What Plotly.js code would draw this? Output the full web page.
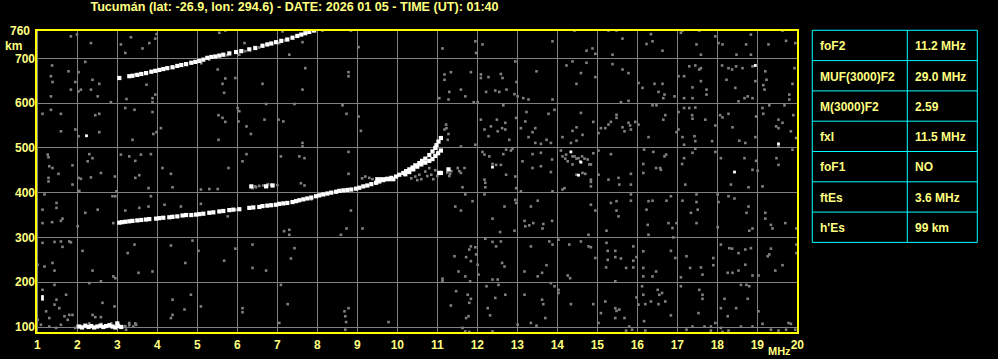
<!DOCTYPE html>
<html>
<head>
<meta charset="utf-8">
<script src="https://cdn.plot.ly/plotly-3.0.1.min.js"></script>
<style>html,body{margin:0;padding:0;background:#000;}#chart{width:998px;height:359px;}</style>
</head>
<body>
<div id="chart"></div>
<script>
// ---- Data (frequency in MHz, virtual height in km) ----
var titleText = "Tucumán (lat: -26.9, lon: 294.6) - DATE: 2026 01 05 - TIME (UT): 01:40";
var freqTicks = [1,2,3,4,5,6,7,8,9,10,11,12,13,14,15,16,17,18,19,20];
var heightTicks = [100,200,300,400,500,600,700];
var tableLabels = ["foF2","MUF(3000)F2","M(3000)F2","fxI","foF1","ftEs","h'Es"];
var tableValues = ["11.2 MHz","29.0 MHz","2.59","11.5 MHz","NO","3.6 MHz","99 km"];

// strong echoes: F2 O-trace
var f2Freq = [3.05,3.12,3.2,3.3,3.38,3.5,3.6,3.72,3.8,3.97,4.05,4.15,4.3,4.38,4.5,4.63,4.72,4.85,4.97,5.05,5.15,5.3,5.4,5.55,5.65,5.8,5.9,6.05,6.3,6.4,6.55,6.63,6.75,6.85,6.97,7.05,7.15,7.25,7.38,7.47,7.55,7.65,7.75,7.85,7.97,8.05,8.15,8.25,8.35,8.47,8.55,8.65,8.75,8.85,8.97,9.05,9.15,9.25,9.35,9.47,9.55,9.65,9.75,9.85,9.97,10.05,10.15,10.22,10.3,10.38,10.45,10.55,10.62,10.7,10.8,10.88,10.95,10.98,11.03,11.09];
var f2Height = [333,334,335,336,337,338,339,340,341,342,343,344,345,346,347,349,350,350,351,352,353,355,356,358,359,361,362,363,366,367,368,370,371,372,373,375,376,377,379,381,383,385,387,389,392,394,396,398,400,402,404,405,406,407,409,411,414,416,419,422,425,428,431,433,436,440,444,448,452,456,461,466,471,476,484,492,500,506,514,522];
// strong echoes: X branch and other F-region echoes
var xFreq = [10.2,10.3,10.4,10.5,10.6,10.7,10.8,10.88,10.95,11.02,11.09,11.05,11.09,11.28,9.5,9.6,9.7,9.8,9.9,6.35,6.72,6.88];
var xHeight = [441,446,452,458,463,467,471,475,482,488,494,444,444,452,430,430,430,430,430,414,414,416];
// strong echoes: multi-hop trace
var hopFreq = [3.05,3.3,3.38,3.5,3.6,3.72,3.85,3.95,4.05,4.15,4.25,4.38,4.5,4.6,4.72,4.85,4.95,5.05,5.15,5.25,5.35,5.45,5.55,5.65,5.8,5.97,6.1,6.3,6.45,6.63,6.75,6.85,6.97,7.1,7.25,7.38,7.5,7.6,7.7,7.8,7.92];
var hopHeight = [656,660,661,663,665,667,670,672,674,676,678,680,683,685,687,690,692,694,697,701,703,704,706,708,711,714,716,720,723,728,731,733,736,739,742,746,750,753,756,759,762];
// strong echoes: sporadic E
var esFreq = [2.05,2.12,2.2,2.28,2.35,2.42,2.5,2.58,2.65,2.72,2.8,2.88,2.95,3.02,3.1,3.0];
var esHeight = [101,99,103,100,102,99,101,103,100,102,104,101,99,102,100,108];
// isolated strong dots
var dotFreq = [1.13,1.13,2.23,12.38,14.34,14.59,14.53,18.95,18.43,19.53];
var dotHeight = [162,168,527,457,491,468,439,684,446,509];

// weak echoes near traces [MHz, km]
var weakTrace = [[9.12,432],[9.2,436],[9.3,433],[9.38,430],[10.35,432],[10.45,436],[10.55,440],[10.6,430],[10.7,447],[10.75,437],[10.85,440],[10.9,430],[10.95,450],[11.0,437],[10.5,428],[10.8,455],[11.25,445],[11.32,442],[11.35,448],[11.3,437],[7.85,385],[8.1,398],[6.45,414],[6.55,415],[6.65,416],[6.75,416],[6.9,417],[7.0,417],[3.45,664],[4.0,671],[4.4,679],[5.1,689],[5.3,697],[5.75,707],[6.2,716],[6.55,724],[7.05,734],[7.5,748],[7.2,740],[2.0,103],[2.3,108],[2.6,107],[2.85,108],[3.2,102],[3.3,104],[3.4,101],[3.45,108],[1.95,98]];
// weak scattered echoes, 1-7.5 MHz
var weakLow = [[1.84,749],[1.99,753],[2.34,734],[3.09,731],[3.2,712],[3.34,747],[3.63,722],[3.8,734],[3.95,744],[3.98,754],[5.55,757],[5.7,762],[6.18,734],[7.3,708],[7.13,760],[1.37,684],[1.34,660],[1.38,647],[1.34,615],[1.78,671],[1.95,647],[1.84,630],[2.03,669],[2.03,626],[2.09,630],[2.2,692],[2.34,630],[2.38,652],[2.51,615],[2.55,643],[2.84,602],[3.23,609],[3.73,641],[3.88,611],[3.95,619],[3.88,602],[5.51,675],[5.63,643],[5.67,623],[5.7,655],[5.95,656],[6.63,643],[6.05,708],[1.13,576],[1.34,585],[1.59,576],[1.59,537],[1.95,541],[2.03,526],[2.45,573],[2.55,576],[2.55,535],[3.2,589],[3.43,585],[3.88,580],[4.09,544],[3.38,518],[3.98,535],[3.9,531],[5.53,573],[5.63,567],[5.7,558],[5.53,518],[6.01,589],[6.05,582],[6.03,559],[6.23,548],[6.34,531],[6.72,598],[6.68,563],[7.03,563],[7.15,559],[7.43,598],[1.26,485],[1.28,479],[1.3,459],[1.38,455],[1.28,433],[1.28,425],[1.53,442],[1.88,461],[1.88,418],[2.03,433],[2.05,404],[2.09,431],[2.3,486],[2.38,477],[2.26,470],[2.34,434],[2.59,444],[2.94,436],[2.98,403],[3.09,485],[3.3,481],[3.45,471],[3.59,485],[3.84,486],[3.45,433],[3.55,439],[4.13,455],[4.34,442],[4.38,412],[3.78,410],[5.09,407],[5.3,408],[5.51,408],[5.78,455],[6.13,470],[6.23,486],[7.09,481],[1.18,396],[1.48,377],[1.48,366],[1.59,337],[1.63,342],[1.13,362],[1.13,332],[1.37,334],[2.01,325],[2.2,355],[2.51,362],[2.88,392],[2.95,392],[2.9,332],[3.2,360],[3.55,366],[3.84,392],[3.78,369],[4.18,373],[4.59,369],[5.09,375],[5.76,347],[5.97,362],[6.38,410],[6.47,412],[6.76,419],[6.84,418],[7.17,314],[7.3,317],[7.3,306],[1.13,288],[1.43,290],[1.59,291],[1.63,279],[1.8,291],[1.84,289],[2.13,270],[2.38,226],[2.59,202],[2.9,213],[2.95,209],[3.26,265],[3.43,284],[3.53,221],[3.88,224],[4.34,282],[4.7,243],[4.88,293],[5.03,270],[5.67,248],[5.95,275],[6.38,284],[6.38,232],[6.72,226],[7.43,276],[7.34,253],[1.01,239],[1.18,235],[1.38,243],[1.43,226],[1.13,183],[1.22,135],[1.3,120],[1.43,194],[1.43,150],[1.48,161],[1.55,142],[1.68,124],[1.72,172],[1.8,127],[1.76,116],[1.88,127],[1.59,105],[1.3,101],[1.47,98],[2.38,127],[2.45,122],[2.59,122],[2.63,154],[2.93,146],[2.3,198],[3.22,94],[3.3,109],[3.47,105],[4.34,120],[4.38,127],[4.38,161],[4.68,139],[4.84,172],[5.09,146],[6.13,142],[6.13,133],[7.05,109],[7.09,194],[7.26,151],[1.01,116],[1.09,105]];
// weak scattered echoes, 7.5-14 MHz
var weakMid = [[8.84,762],[8.13,762],[9.03,725],[7.63,736],[11.13,722],[11.95,738],[12.13,731],[11.97,712],[13.88,738],[7.7,678],[8.78,669],[8.78,660],[7.63,630],[11.18,664],[11.18,652],[11.34,669],[11.84,669],[12.09,664],[12.09,656],[12.28,658],[12.59,665],[12.63,656],[12.95,693],[13.48,671],[12.98,647],[11.59,630],[11.3,625],[11.7,615],[11.05,611],[11.28,608],[11.91,602],[12.01,602],[12.22,625],[12.45,628],[12.55,625],[12.73,630],[12.93,620],[13.01,615],[13.15,611],[13.28,608],[13.88,608],[8.63,595],[8.73,576],[9.03,570],[9.09,538],[7.63,511],[7.63,503],[11.22,552],[11.23,544],[11.18,541],[11.28,531],[11.26,518],[11.59,503],[11.95,507],[12.09,563],[12.18,541],[12.28,526],[12.34,548],[12.49,563],[12.51,537],[12.62,544],[12.7,556],[12.7,541],[12.65,595],[12.97,567],[13.09,544],[13.2,559],[13.23,580],[13.28,524],[13.38,535],[13.45,544],[13.45,511],[13.59,509],[13.78,576],[13.73,518],[13.84,511],[13.93,585],[12.8,518],[7.55,481],[7.68,477],[8.78,491],[8.78,442],[7.59,421],[7.68,416],[12.13,491],[12.18,485],[12.3,481],[12.38,464],[12.47,462],[12.59,462],[12.65,486],[12.72,496],[12.84,494],[12.88,498],[12.72,440],[12.95,436],[12.97,410],[13.13,470],[13.38,486],[13.38,455],[13.59,489],[13.59,459],[13.87,474],[13.84,446],[12.18,429],[12.2,422],[12.2,412],[11.63,412],[11.51,455],[11.55,448],[11.68,455],[11.59,444],[13.09,403],[13.88,403],[8.84,360],[8.59,306],[8.73,320],[9.13,320],[11.45,369],[11.59,360],[11.7,396],[11.88,381],[12.18,396],[12.38,342],[12.68,369],[12.95,384],[12.97,377],[12.57,312],[12.93,315],[13.18,337],[13.2,325],[13.3,327],[13.34,369],[13.4,332],[13.51,382],[13.65,330],[13.63,320],[13.87,337],[11.13,208],[11.13,202],[11.43,258],[11.53,224],[11.72,256],[11.8,273],[11.84,280],[11.95,278],[11.97,262],[11.84,247],[12.01,239],[12.03,217],[11.7,213],[11.82,202],[12.2,297],[12.38,290],[12.47,280],[12.59,291],[12.62,243],[12.68,235],[13.34,280],[13.18,224],[13.51,213],[13.62,221],[13.73,238],[13.8,291],[13.88,284],[12.38,206],[12.51,206],[8.68,135],[8.7,124],[8.72,111],[8.78,142],[9.78,111],[8.7,94],[11.34,148],[11.47,180],[11.76,172],[11.84,163],[11.8,154],[11.72,120],[11.78,124],[11.63,98],[11.7,90],[12.26,142],[12.23,191],[12.32,126],[12.45,165],[12.7,172],[12.53,194],[13.01,105],[13.18,172],[13.34,109],[13.48,103],[13.62,161],[13.65,151],[13.7,120],[13.84,198],[13.93,191],[12.38,90],[11.8,89]];
// weak scattered echoes, 14-20 MHz
var weakHigh = [[14.43,762],[15.28,762],[15.48,762],[15.63,744],[14.73,717],[14.88,722],[14.95,710],[15.38,708],[16.34,754],[16.23,732],[16.38,738],[16.63,717],[17.09,757],[17.13,762],[17.55,762],[17.48,731],[17.59,708],[17.95,749],[18.03,734],[18.13,731],[18.48,708],[18.72,731],[18.84,753],[18.84,708],[19.28,731],[19.63,762],[19.72,739],[19.95,734],[14.23,684],[14.38,693],[14.59,667],[14.73,690],[14.95,658],[14.48,643],[15.38,687],[15.63,675],[15.78,667],[16.03,645],[16.13,634],[16.43,643],[16.53,625],[16.63,643],[16.68,619],[16.65,611],[16.93,615],[17.03,660],[17.17,660],[17.3,682],[17.38,635],[17.45,684],[17.55,675],[17.59,678],[17.59,649],[17.73,630],[17.73,619],[17.17,611],[17.38,611],[18.12,684],[18.23,652],[18.28,678],[18.37,675],[18.47,682],[18.63,678],[18.68,611],[18.88,682],[18.95,649],[18.88,611],[18.45,634],[18.53,604],[19.2,671],[19.23,652],[19.15,640],[19.18,630],[19.8,619],[19.8,608],[19.88,643],[19.93,678],[15.59,602],[15.78,605],[18.76,615],[14.59,578],[14.13,524],[14.34,511],[14.38,538],[14.48,516],[14.63,529],[14.48,546],[14.9,558],[15.03,533],[15.09,544],[15.2,544],[15.28,552],[15.34,558],[15.48,574],[15.48,567],[15.63,546],[15.68,537],[15.82,550],[15.84,541],[15.78,556],[15.95,558],[16.03,552],[16.28,524],[16.38,595],[16.48,595],[16.7,573],[16.65,563],[16.98,535],[17.03,541],[17.03,580],[17.17,589],[17.3,589],[17.45,590],[17.38,565],[17.37,573],[17.13,524],[17.17,507],[17.43,526],[17.45,515],[17.7,563],[17.87,515],[17.95,550],[18.07,573],[18.13,568],[18.28,576],[18.38,546],[18.55,516],[18.7,511],[18.95,524],[18.97,570],[19.13,589],[19.15,576],[19.3,595],[19.47,548],[19.53,563],[19.53,544],[19.63,556],[19.68,595],[19.84,537],[19.9,573],[19.97,522],[14.09,494],[14.13,481],[14.2,476],[14.22,485],[14.26,470],[14.38,481],[14.43,481],[14.48,476],[14.53,477],[14.57,470],[14.62,481],[14.68,476],[14.76,474],[14.8,463],[14.84,463],[14.38,463],[14.48,440],[14.63,444],[14.7,442],[14.84,429],[14.84,424],[14.84,414],[14.18,410],[14.13,407],[14.9,488],[15.03,494],[15.03,440],[15.34,486],[15.28,429],[15.53,433],[15.55,418],[15.84,442],[15.84,418],[16.17,496],[16.15,464],[16.15,444],[16.4,491],[16.47,455],[16.68,481],[16.72,485],[16.57,455],[16.59,451],[17.12,464],[17.17,477],[17.38,489],[17.2,418],[17.45,498],[17.95,491],[18.09,477],[18.34,418],[18.68,477],[18.88,451],[18.97,471],[19.01,449],[18.78,412],[19.13,414],[19.48,477],[19.53,462],[19.53,503],[19.88,496],[14.84,373],[14.95,360],[15.34,377],[15.48,381],[15.48,360],[15.53,347],[15.84,396],[15.84,382],[16.28,381],[16.38,382],[16.23,362],[16.26,328],[16.28,306],[16.73,382],[16.84,392],[16.78,332],[16.88,321],[16.98,332],[16.9,300],[17.13,382],[17.48,396],[17.48,379],[17.51,362],[17.34,355],[17.48,332],[18.01,396],[18.03,379],[18.28,392],[18.43,387],[18.01,323],[18.78,369],[18.73,355],[18.8,315],[18.88,320],[19.2,355],[19.2,342],[19.34,328],[19.38,320],[19.7,332],[19.98,320],[14.78,306],[15.23,315],[14.03,295],[14.3,284],[14.59,291],[14.78,280],[14.84,278],[14.95,254],[15.23,288],[15.26,270],[15.26,250],[15.45,270],[15.45,256],[15.59,253],[15.72,232],[15.9,280],[15.9,248],[15.9,233],[15.98,256],[15.22,233],[15.45,202],[16.15,269],[16.15,232],[16.15,213],[16.38,213],[16.47,224],[16.84,270],[16.95,254],[17.23,258],[17.32,232],[17.59,233],[17.63,217],[17.09,211],[17.9,254],[17.9,238],[18.09,284],[18.3,276],[18.37,275],[18.53,265],[18.7,273],[18.84,276],[18.7,239],[18.88,215],[19.03,215],[18.26,221],[18.38,221],[18.53,226],[19.34,275],[19.3,262],[19.26,258],[19.63,238],[19.45,226],[19.98,284],[19.98,265],[14.26,215],[14.32,209],[14.03,183],[14.03,176],[14.34,151],[14.9,151],[15.03,109],[15.09,131],[15.2,157],[15.45,142],[15.48,136],[15.55,139],[15.45,120],[15.68,120],[15.8,101],[15.87,94],[15.72,92],[15.98,166],[16.03,150],[16.12,191],[16.15,172],[16.2,151],[16.34,157],[16.17,113],[16.2,92],[16.51,183],[16.55,172],[16.62,176],[16.53,151],[16.7,157],[16.84,126],[17.09,191],[17.23,94],[17.38,101],[17.55,183],[17.63,172],[17.63,163],[17.53,131],[17.68,101],[17.84,101],[17.84,92],[17.95,109],[18.09,142],[18.09,98],[18.18,163],[18.26,124],[18.28,92],[18.47,142],[18.59,194],[18.73,194],[18.76,163],[18.8,191],[19.03,135],[18.88,101],[19.13,107],[19.34,94],[19.53,92],[19.78,109],[19.84,107],[19.95,94],[19.72,94],[18.59,101],[18.13,89]];

// ---- Layout constants (pixels) ----
var W = 998, H = 359;
var M = {l:36, r:20, t:30, b:26};
var PW = W - M.l - M.r, PH = H - M.t - M.b;
function px2x(px){ return (px - M.l) / PW; }
function px2y(py){ return 1 - (py - M.t) / PH; }
var TBL = {left:812.3, mid:907.3, right:977.3, top:30.3, row:30.3, padL:5.4};

// ---- Build traces ----
var weakAll = weakTrace.concat(weakLow, weakMid, weakHigh);
var YEL = '#ffff80';
var FONT = 'Liberation Sans, Arial, sans-serif';
var tf = function(sz){ return {family:FONT, size:sz, color:YEL, weight:'bold'}; };

var traces = [
  {type:'scatter', mode:'markers', x: weakAll.map(function(p){return p[0];}), y: weakAll.map(function(p){return p[1];}),
   marker:{symbol:'square', size:2.6, color:'#808080', line:{width:0}}, hoverinfo:'skip'},
  {type:'scatter', mode:'markers', x: f2Freq.concat(xFreq, hopFreq, esFreq), y: f2Height.concat(xHeight, hopHeight, esHeight),
   marker:{symbol:'square', size:4.2, color:'#ffffff', line:{width:0}}, hoverinfo:'skip'},
  {type:'scatter', mode:'markers', x: dotFreq, y: dotHeight,
   marker:{symbol:'square', size:2.8, color:'#ffffff', line:{width:0}}, hoverinfo:'skip'}
];

var shapes = [{type:'rect', xref:'x domain', yref:'y domain', x0:0, x1:1, y0:0, y1:1,
               line:{color:'#ffff00', width:2}, fillcolor:'rgba(0,0,0,0)', layer:'above'}];
var nRows = tableLabels.length;
var tBottom = TBL.top + nRows * TBL.row;
// table outline and column divider
shapes.push({type:'rect', xref:'paper', yref:'paper', x0:px2x(TBL.left), x1:px2x(TBL.right), y0:px2y(TBL.top), y1:px2y(tBottom),
             line:{color:'#00ffff', width:1}, fillcolor:'rgba(0,0,0,0)'});
shapes.push({type:'line', xref:'paper', yref:'paper', x0:px2x(TBL.mid), x1:px2x(TBL.mid), y0:px2y(TBL.top), y1:px2y(tBottom),
             line:{color:'#00ffff', width:1}});
var annotations = [];
tableLabels.forEach(function(lab, i){
  var yTop = TBL.top + i * TBL.row;
  if (i > 0) shapes.push({type:'line', xref:'paper', yref:'paper', x0:px2x(TBL.left), x1:px2x(TBL.right), y0:px2y(yTop), y1:px2y(yTop),
                          line:{color:'#00ffff', width:1}});
  var yc = px2y(yTop + TBL.row / 2 + 0.8);
  annotations.push({text:lab, xref:'paper', yref:'paper', x:px2x(TBL.left + TBL.padL), y:yc, xanchor:'left', yanchor:'middle',
                    showarrow:false, font:tf(12)});
  annotations.push({text:tableValues[i], xref:'paper', yref:'paper', x:px2x(TBL.mid + TBL.padL), y:yc, xanchor:'left', yanchor:'middle',
                    showarrow:false, font:tf(12)});
});
annotations.push({text:'760', xref:'paper', yref:'y', x:0, y:760, xanchor:'right', yanchor:'middle', xshift:-4, showarrow:false, font:tf(12)});
annotations.push({text:'km', xref:'paper', yref:'y', x:0, y:728, xanchor:'center', yanchor:'middle', xshift:-23, showarrow:false, font:tf(12)});
annotations.push({text:'MHz', xref:'x', yref:'paper', x:19.55, y:0, xanchor:'center', yanchor:'middle', yshift:-18, showarrow:false, font:tf(11)});

var layout = {
  width:W, height:H,
  paper_bgcolor:'#000000', plot_bgcolor:'#000000',
  margin:{l:M.l, r:M.r, t:M.t, b:M.b, pad:0},
  showlegend:false,
  title:{text:titleText, font:tf(12.6),
         x:294.5/W, xref:'container', xanchor:'center', y:1-6.5/H, yref:'container', yanchor:'middle'},
  xaxis:{domain:[0, px2x(798)], range:[0.9675, 20.0175], tickvals:freqTicks, ticktext:freqTicks.map(String),
         showgrid:true, gridcolor:'#808080', gridwidth:1, zeroline:false, showline:false, ticks:'', ticklabelstandoff:3,
         tickfont:tf(12), fixedrange:true},
  yaxis:{range:[86.6, 763.2], tickvals:heightTicks, ticktext:heightTicks.map(String),
         showgrid:true, gridcolor:'#808080', gridwidth:1, zeroline:false, showline:false, ticks:'',
         tickfont:tf(12), fixedrange:true},
  shapes:shapes,
  annotations:annotations
};

Plotly.newPlot('chart', traces, layout, {displayModeBar:false, staticPlot:true});
</script>
</body>
</html>
